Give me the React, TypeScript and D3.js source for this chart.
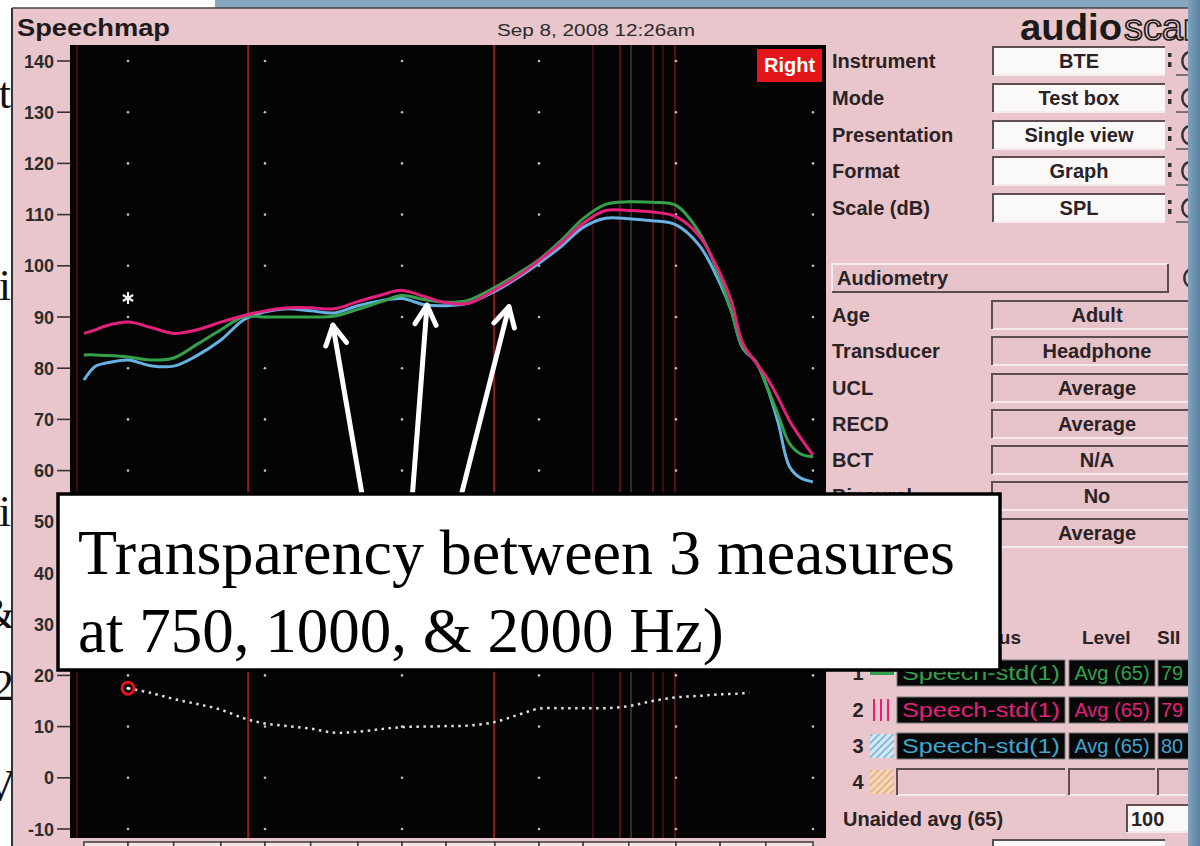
import React from "react";
import * as d3 from "d3";

// ---------- DATA ----------
const freqs = [200, 212, 224, 250, 280, 315, 355, 400, 450, 500, 560, 630, 710, 800, 900, 1000, 1120, 1250, 1400, 1600, 1800, 2000, 2240, 2500, 2800, 3150, 3550, 4000, 4500, 5000, 5300, 5600, 6000, 6300, 6700, 7100, 7500, 8000];
const greenDb = [82.6, 82.6, 82.5, 82.2, 81.6, 82.0, 84.7, 87.5, 90.1, 90.0, 90.0, 90.0, 90.2, 91.5, 93.0, 94.2, 93.4, 92.9, 93.3, 95.8, 98.5, 101.2, 105.0, 109.2, 112.0, 112.5, 112.4, 111.8, 106.5, 97.5, 91.0, 84.2, 81.2, 77.0, 71.0, 65.3, 63.3, 62.7];
const magentaDb = [86.8, 87.5, 88.3, 89.0, 88.0, 86.8, 87.5, 89.0, 90.3, 91.2, 91.8, 91.8, 91.6, 93.0, 94.3, 95.2, 94.0, 92.8, 92.7, 95.3, 98.0, 101.0, 104.5, 108.3, 110.8, 110.8, 110.5, 109.6, 105.8, 98.5, 93.0, 85.0, 81.0, 78.5, 74.3, 69.8, 66.5, 63.0];
const blueDb = [77.7, 80.4, 81.0, 81.6, 80.5, 80.4, 82.5, 85.5, 89.5, 91.0, 91.6, 91.2, 90.8, 92.2, 93.2, 93.6, 92.4, 92.2, 92.7, 95.0, 97.7, 100.5, 103.8, 107.5, 109.3, 109.2, 108.8, 108.0, 104.0, 96.5, 91.0, 84.0, 81.2, 77.0, 69.5, 60.8, 58.6, 57.8];

const thrFreqs = [250, 280, 315, 355, 400, 450, 500, 560, 630, 710, 800, 900, 1000, 1120, 1250, 1400, 1600, 1800, 2000, 2240, 2500, 2800, 3150, 3550, 4000, 4500, 5000, 5600, 5800];
const thrDb = [17.5, 16.6, 15.4, 14.4, 13.3, 11.6, 10.6, 10.1, 9.6, 8.8, 9.0, 9.5, 9.9, 10.0, 10.1, 10.2, 10.9, 12.3, 13.5, 13.6, 13.6, 13.6, 14.0, 15.0, 15.7, 16.0, 16.3, 16.5, 16.7];

const yTicks = [-10, 0, 10, 20, 30, 40, 50, 60, 70, 80, 90, 100, 110, 120, 130, 140];
const gridFreqs = [250, 500, 1000, 2000, 4000, 8000];
const bandEdges = [200, 250, 315, 400, 500, 630, 800, 1000, 1250, 1600, 2000, 2500, 3150, 4000, 5000, 6300, 8000];
const redMain = [459, 1593];
const redThin = [3013, 3561, 3980];
const redFaint = [193, 2628, 3745];
const greyLine = [3186];
const uclPoint: [number, number] = [250, 93.7];
const thrMarker: [number, number] = [250, 17.5];
const arrowTargets: [number, number][] = [[705, 88.4], [1135, 92.3], [1718, 92.0]];

const settingLabels = ["Instrument", "Mode", "Presentation", "Format", "Scale (dB)"];
const settingValues = ["BTE", "Test box", "Single view", "Graph", "SPL"];
const audioLabels = ["Age", "Transducer", "UCL", "RECD", "BCT", "Binaural", ""];
const audioValues = ["Adult", "Headphone", "Average", "Average", "N/A", "No", "Average"];
const stimNums = ["1", "2", "3", "4"];
const stimNames = ["Speech-std(1)", "Speech-std(1)", "Speech-std(1)", ""];
const stimLevels = ["Avg (65)", "Avg (65)", "Avg (65)", ""];
const stimSII = ["79", "79", "80", ""];

const annotationLines = ["Transparency between 3 measures", "at 750, 1000, & 2000 Hz)"];

// ---------- STYLE ----------
const PINK = "#e9c6cc";
const GREEN = "#35a04c";
const MAGENTA = "#e3207c";
const BLUE = "#66b2e2";
const SANS = "'Liberation Sans', Arial, Helvetica, sans-serif";
const SERIF = "'Liberation Serif', 'Times New Roman', serif";
const TXT = "#2a2225";

function Inset({ x0, y0, w, h, fill }: { x0: number; y0: number; w: number; h: number; fill: string }) {
  return (
    <g>
      <rect x={x0} y={y0} width={w} height={h} fill={fill} />
      <path d={`M${x0 + w},${y0 + h} H${x0} `} stroke="#f6eaec" strokeWidth={2} fill="none" />
      <path d={`M${x0},${y0 + h} V${y0} H${x0 + w}`} stroke="#5e4d52" strokeWidth={2} fill="none" />
    </g>
  );
}

function SideIcon({ cy }: { cy: number }) {
  return (
    <g>
      <rect x={1168} y={cy - 8} width={3.5} height={4} fill="#333" />
      <rect x={1168} y={cy + 1} width={3.5} height={5} fill="#333" />
      <path d={`M1188,${cy - 9} A10,10 0 0 0 1188,${cy + 9}`} stroke="#333" strokeWidth={2.5} fill="none" />
      <line x1={1176} x2={1192} y1={cy + 14} y2={cy + 14} stroke="#555" strokeWidth={1.5} />
    </g>
  );
}

export default function App() {
  const x = d3.scaleLog().domain([250, 8000]).range([128, 813]);
  const y = d3.scaleLinear().domain([-10, 140]).range([829, 61]);
  const line = d3
    .line<[number, number]>()
    .x((d) => x(d[0]))
    .y((d) => y(d[1]))
    .curve(d3.curveCatmullRom.alpha(0.5));
  const pts = (vals: number[]) => freqs.map((f, i) => [f, vals[i]] as [number, number]);
  const thrPts = thrFreqs.map((f, i) => [f, thrDb[i]] as [number, number]);

  const P = { x0: 70, x1: 826, y0: 45, y1: 838 };

  const settingRows = [61, 98, 135, 171, 208];
  const audioRows = [315, 351, 388, 424, 460, 496, 533];
  const stimRows = [673, 710, 746, 782];
  const stimColors = [GREEN, MAGENTA, "#3fa6cf", "#888"];

  const arrowTails = [363, 412, 460];
  const boxTop = 494;

  return (
    <svg width={1200} height={846} style={{ position: "absolute", left: 0, top: 0 }} fontFamily={SANS}>
      <defs>
        <clipPath id="plotClip">
          <rect x={P.x0} y={P.y0} width={P.x1 - P.x0} height={P.y1 - P.y0} />
        </clipPath>
        <clipPath id="leftClip">
          <rect x={0} y={0} width={12} height={846} />
        </clipPath>
        <pattern id="hatchBlue" width={5} height={5} patternUnits="userSpaceOnUse" patternTransform="rotate(45)">
          <rect width={5} height={5} fill="#d6e8f0" />
          <line x1={0} y1={0} x2={0} y2={5} stroke="#6fb0d8" strokeWidth={3} />
        </pattern>
        <pattern id="hatchOrange" width={5} height={5} patternUnits="userSpaceOnUse" patternTransform="rotate(45)">
          <rect width={5} height={5} fill="#f1d6c0" />
          <line x1={0} y1={0} x2={0} y2={5} stroke="#e8a862" strokeWidth={3} />
        </pattern>
        <linearGradient id="edgeGrad" x1="0" x2="1" y1="0" y2="0">
          <stop offset="0" stopColor="#7fa3bd" />
          <stop offset="1" stopColor="#5a82a0" />
        </linearGradient>
      </defs>

      {/* backgrounds */}
      <rect x={0} y={0} width={1200} height={846} fill={PINK} />
      <rect x={0} y={0} width={12} height={846} fill="#ffffff" />
      <rect x={0} y={0} width={215} height={8} fill="#ffffff" />
      <rect x={215} y={0} width={985} height={8} fill="#86a7bf" />
      <line x1={12} x2={12} y1={8} y2={846} stroke="#333" strokeWidth={2} />
      <line x1={12} x2={1190} y1={8} y2={8} stroke="#444" strokeWidth={1.5} />

      {/* slide text peeking on the left */}
      <g clipPath="url(#leftClip)" fontFamily={SERIF} fontSize={44} fill="#111" textAnchor="end">
        <text x={11} y={108}>t</text>
        <text x={11} y={300}>i</text>
        <text x={11} y={526}>i</text>
        <text x={15} y={628}>&amp;</text>
        <text x={14} y={700}>2</text>
        <text x={16} y={800}>V</text>
      </g>

      {/* header */}
      <text x={17} y={36} fontSize={24} fontWeight="bold" fill="#1e1a1c" textLength={153} lengthAdjust="spacingAndGlyphs">
        Speechmap
      </text>
      <text x={497} y={36} fontSize={16} fill="#2b2b2b" textLength={198} lengthAdjust="spacingAndGlyphs">
        Sep 8, 2008 12:26am
      </text>
      <text x={1020} y={40} fontSize={36} fontWeight="bold" fill="#1a1a1a" textLength={102} lengthAdjust="spacingAndGlyphs">
        audio
      </text>
      <text x={1124} y={40} fontSize={36} fill="none" stroke="#1a1a1a" strokeWidth={1.6} textLength={80} lengthAdjust="spacingAndGlyphs">
        scan
      </text>

      {/* plot */}
      <rect x={P.x0} y={P.y0} width={P.x1 - P.x0} height={P.y1 - P.y0} fill="#040404" />
      <g clipPath="url(#plotClip)">
        {redFaint.map((f) => (
          <line key={"rf" + f} x1={x(f)} x2={x(f)} y1={P.y0} y2={P.y1} stroke="#5a1414" strokeWidth={1.3} />
        ))}
        {greyLine.map((f) => (
          <line key={"gl" + f} x1={x(f)} x2={x(f)} y1={P.y0} y2={P.y1} stroke="#3c5546" strokeWidth={1.2} />
        ))}
        {redThin.map((f) => (
          <line key={"rt" + f} x1={x(f)} x2={x(f)} y1={P.y0} y2={P.y1} stroke="#861919" strokeWidth={1.3} />
        ))}
        {redMain.map((f) => (
          <line key={"rm" + f} x1={x(f)} x2={x(f)} y1={P.y0} y2={P.y1} stroke="#9e1b1b" strokeWidth={1.8} />
        ))}
        {gridFreqs.map((f) =>
          yTicks.map((t) => <circle key={`g${f}-${t}`} cx={x(f)} cy={y(t)} r={1.3} fill="#bdbdbd" />)
        )}
        <path d={line(pts(blueDb)) || ""} fill="none" stroke={BLUE} strokeWidth={3} />
        <path d={line(pts(greenDb)) || ""} fill="none" stroke={GREEN} strokeWidth={3} />
        <path d={line(pts(magentaDb)) || ""} fill="none" stroke={MAGENTA} strokeWidth={3} />
        <path d={line(thrPts) || ""} fill="none" stroke="#e0e0e0" strokeWidth={2.5} strokeDasharray="2.5 4.5" />
        <circle cx={x(thrMarker[0])} cy={y(thrMarker[1])} r={6} fill="none" stroke="#e8141c" strokeWidth={3} />
        <circle cx={x(thrMarker[0])} cy={y(thrMarker[1])} r={1.5} fill="#fff" />
        {[0, 60, 120].map((a) => {
          const r = (a * Math.PI) / 180;
          const cx = x(uclPoint[0]);
          const cy = y(uclPoint[1]);
          return (
            <line
              key={"ast" + a}
              x1={cx - 6 * Math.sin(r)}
              y1={cy - 6 * Math.cos(r)}
              x2={cx + 6 * Math.sin(r)}
              y2={cy + 6 * Math.cos(r)}
              stroke="#f2f2f2"
              strokeWidth={2.2}
            />
          );
        })}
      </g>

      {/* Right label */}
      <rect x={757} y={49} width={65} height={33} fill="#e4161c" />
      <text x={789.5} y={72} fontSize={20} fontWeight="bold" fill="#fff" textAnchor="middle">
        Right
      </text>

      {/* y axis */}
      {yTicks.map((t) => (
        <g key={"yt" + t}>
          <text x={54} y={y(t) + 6.5} fontSize={18} fontWeight="bold" fill="#2c2c2c" textAnchor="end">
            {t}
          </text>
          <line x1={57} x2={P.x0} y1={y(t)} y2={y(t)} stroke="#333" strokeWidth={1.6} />
        </g>
      ))}

      {/* frequency band boxes along bottom */}
      {bandEdges.slice(0, -1).map((f, i) => (
        <rect
          key={"bb" + f}
          x={x(f)}
          y={842}
          width={x(bandEdges[i + 1]) - x(f)}
          height={12}
          fill="#f3e4e6"
          stroke="#3a3a3a"
          strokeWidth={1.5}
        />
      ))}

      {/* settings panel */}
      {settingLabels.map((l, i) => (
        <g key={"s" + l}>
          <text x={832} y={settingRows[i] + 7} fontSize={20} fontWeight="bold" fill={TXT}>
            {l}
          </text>
          <Inset x0={993} y0={settingRows[i] - 14} w={172} h={28} fill="#fbf8f8" />
          <text x={1079} y={settingRows[i] + 7} fontSize={20} fontWeight="bold" fill={TXT} textAnchor="middle">
            {settingValues[i]}
          </text>
          <SideIcon cy={settingRows[i]} />
        </g>
      ))}

      {/* Audiometry */}
      <rect x={832} y={264} width={336} height={28} fill="#e6c3c9" />
      <path d="M832,292 V264 H1168" stroke="#f7ecee" strokeWidth={2} fill="none" />
      <path d="M832,292 H1168 V264" stroke="#5b4b50" strokeWidth={2} fill="none" />
      <text x={837} y={285} fontSize={20} fontWeight="bold" fill={TXT}>
        Audiometry
      </text>
      <path d="M1190,269 A10,10 0 0 0 1190,287" stroke="#333" strokeWidth={2.5} fill="none" />
      {audioLabels.map((l, i) => (
        <g key={"a" + i}>
          <text x={832} y={audioRows[i] + 7} fontSize={20} fontWeight="bold" fill={TXT}>
            {l}
          </text>
          <Inset x0={992} y0={audioRows[i] - 14} w={210} h={28} fill="#e6c3c9" />
          <text x={1097} y={audioRows[i] + 7} fontSize={20} fontWeight="bold" fill={TXT} textAnchor="middle">
            {audioValues[i]}
          </text>
        </g>
      ))}

      {/* stimulus table */}
      <text x={1021} y={644} fontSize={19} fontWeight="bold" fill={TXT} textAnchor="end">
        Stimulus
      </text>
      <text x={1082} y={644} fontSize={19} fontWeight="bold" fill={TXT}>
        Level
      </text>
      <text x={1157} y={644} fontSize={19} fontWeight="bold" fill={TXT}>
        SII
      </text>
      {stimNums.map((n, i) => {
        const cy = stimRows[i];
        const empty = stimNames[i] === "";
        const boxFill = empty ? "#e6c3c9" : "#080808";
        const c = stimColors[i];
        return (
          <g key={"st" + n}>
            <text x={858} y={cy + 7} fontSize={20} fontWeight="bold" fill={TXT} textAnchor="middle">
              {n}
            </text>
            {i === 0 && <line x1={870} x2={894} y1={cy} y2={cy} stroke={GREEN} strokeWidth={4} />}
            {i === 1 &&
              [874, 881, 888].map((xx) => (
                <line key={xx} x1={xx} x2={xx} y1={cy - 11} y2={cy + 11} stroke={MAGENTA} strokeWidth={2} />
              ))}
            {i === 2 && <rect x={870} y={cy - 12} width={24} height={24} fill="url(#hatchBlue)" />}
            {i === 3 && <rect x={870} y={cy - 12} width={24} height={24} fill="url(#hatchOrange)" />}
            {empty ? (
              <g>
                <Inset x0={897} y0={cy - 13} w={168} h={26} fill={boxFill} />
                <Inset x0={1069} y0={cy - 13} w={86} h={26} fill={boxFill} />
                <Inset x0={1158} y0={cy - 13} w={44} h={26} fill={boxFill} />
              </g>
            ) : (
              <g>
                <rect x={897} y={cy - 13} width={168} height={26} fill={boxFill} stroke="#777" strokeWidth={1} />
                <rect x={1069} y={cy - 13} width={86} height={26} fill={boxFill} stroke="#777" strokeWidth={1} />
                <rect x={1158} y={cy - 13} width={44} height={26} fill={boxFill} stroke="#777" strokeWidth={1} />
                <text x={902} y={cy + 7} fontSize={20} fill={c} textLength={158} lengthAdjust="spacingAndGlyphs">
                  {stimNames[i]}
                </text>
                <text x={1112} y={cy + 7} fontSize={20} fill={c} textAnchor="middle">
                  {stimLevels[i]}
                </text>
                <text x={1161} y={cy + 7} fontSize={20} fill={c}>
                  {stimSII[i]}
                </text>
              </g>
            )}
          </g>
        );
      })}
      <text x={843} y={826} fontSize={20} fontWeight="bold" fill={TXT}>
        Unaided avg (65)
      </text>
      <Inset x0={1127} y0={805} w={80} h={27} fill="#fbf8f8" />
      <text x={1131} y={826} fontSize={20} fontWeight="bold" fill={TXT}>
        100
      </text>
      <Inset x0={993} y0={840} w={172} h={20} fill="#fbf8f8" />

      {/* arrows */}
      {arrowTargets.map((t, i) => {
        const tx = x(t[0]);
        const ty = y(t[1]);
        const sx = arrowTails[i];
        const sy = boxTop + 6;
        const ang = Math.atan2(sy - ty, sx - tx);
        const L = 22;
        const a1 = ang + 0.5;
        const a2 = ang - 0.5;
        return (
          <g key={"ar" + i} stroke="#fff" strokeWidth={5} fill="none" strokeLinecap="round" strokeLinejoin="round">
            <line x1={sx} y1={sy} x2={tx} y2={ty} />
            <polyline
              points={`${tx + L * Math.cos(a1)},${ty + L * Math.sin(a1)} ${tx},${ty} ${tx + L * Math.cos(a2)},${ty + L * Math.sin(a2)}`}
            />
          </g>
        );
      })}

      {/* annotation box */}
      <rect x={58} y={boxTop} width={942} height={670 - boxTop} fill="#fff" stroke="#000" strokeWidth={3.5} />
      <text x={78} y={574} fontFamily={SERIF} fontSize={63} fill="#000" textLength={877} lengthAdjust="spacingAndGlyphs">
        {annotationLines[0]}
      </text>
      <text x={78} y={652} fontFamily={SERIF} fontSize={63} fill="#000">
        {annotationLines[1]}
      </text>

      {/* right edge band */}
      <rect x={1188} y={0} width={12} height={846} fill="url(#edgeGrad)" />
    </svg>
  );
}
